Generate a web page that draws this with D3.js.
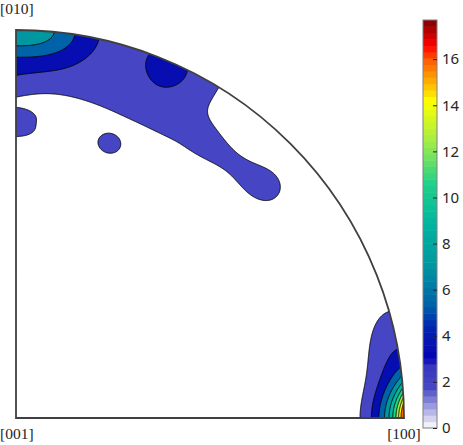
<!DOCTYPE html>
<html><head><meta charset="utf-8">
<script src="https://cdn.jsdelivr.net/npm/d3@7"></script>
<style>body{margin:0;background:#fff}svg{display:block}</style>
</head><body>
<svg id="chart" width="463" height="445"></svg>
<script>
// ---------- data ----------
// texture components of the inverse pole figure, polar position on the
// stereographic quarter disc: angle from [100] (deg) and radius (1 = rim)
const compTheta  = [90,    90,    66.6,  51,    42.8,  90,     71.25, 0,      0,      93,     63];
const compRadius = [1,     1,     0.985, 0.866, 0.881, 0.7603, 0.746, 1,      1,      0.84,   0.84];
const compAmp    = [5.8,   2.6,   1.9,   1.9,   2.4,   3.3,    2.5,   14.4,   4.18,   1.2,    1.4];
const compWidthA = [0.1696,0.6028,0.0693,0.110, 0.062, 0.0652, 0.0482,0.0875, 0.2925, 0.0911, 0.2187];
const compWidthR = [0.0802,0.1683,0.062, 0.040, 0.0565,0.0407, 0.0395,0.0387, 0.0948, 0.0437, 0.0547];
const compPowA   = [2.5,   10,    2,     4,     2,     2,      2,     2,      3,      2,      2];
const compPowR   = [2,     8,     2,     2,     2,     3,      2,     1,      2,      2,      2];

const maxValue = 17.7;
const levels = [1.77, 3.54, 5.31, 7.08, 8.85, 10.62, 12.39, 14.16, 15.93];
const cbTicks = [0, 2, 4, 6, 8, 10, 12, 14, 16];
const cmapValues = [0, 1.77, 2.85, 2.95, 3.54, 4.4, 5.31, 7.08, 8.85, 10.6, 12.4, 14.2, 15.0, 15.93, 16.6, 17.7];
const cmapColors = ["#ffffff", "#4646c4", "#3434be", "#0000b4", "#0810b0", "#0024b0", "#0060aa", "#0098a0",
                    "#00b4a0", "#20d08a", "#a0ec48", "#ffff00", "#ffb000", "#ff6000", "#ff0000", "#800000"];
const poleLabels = ["[001]", "[100]", "[010]"];

// ---------- scales ----------
const svg = d3.select("#chart");
const X = d3.scaleLinear().domain([0, 1]).range([16, 404]);
const Y = d3.scaleLinear().domain([0, 1]).range([418, 30]);
const C = d3.scaleLinear().domain([0, maxValue]).range([428, 20]);
const cmapCont = d3.scaleLinear().domain(cmapValues).range(cmapColors).interpolate(d3.interpolateRgb).clamp(true);
const nColors = 64;
const cmap = v => {
  const idx = Math.max(0, Math.min(nColors - 1, Math.floor(v / maxValue * nColors)));
  return cmapCont((idx + 0.5) / nColors * maxValue);
};

// ---------- density grid ----------
function density(u, v) {
  const r = Math.hypot(u, v);
  const th = Math.atan2(v, u);
  let s = 0;
  for (let k = 0; k < compAmp.length; k++) {
    const a = (th - compTheta[k] * Math.PI / 180) * compRadius[k];
    const b = r - compRadius[k];
    s += compAmp[k] * Math.exp(-Math.pow(Math.abs(a) / compWidthA[k], compPowA[k])
                               - Math.pow(Math.abs(b) / compWidthR[k], compPowR[k]));
  }
  return s;
}
const n = 420, u0 = -0.04, v0 = 1.04, du = 1.08 / (n - 1);
const values = new Float64Array(n * n);
for (let j = 0; j < n; j++) for (let i = 0; i < n; i++)
  values[j * n + i] = density(u0 + i * du, v0 - j * du);

const contours = d3.contours().size([n, n]).thresholds(levels)(values);
const proj = d3.geoTransform({
  point(gx, gy) { this.stream.point(X(u0 + (gx - 0.5) * du), Y(v0 - (gy - 0.5) * du)); }
});
const path = d3.geoPath(proj);

// sector clip
const sector = `M${X(0)},${Y(1)}L${X(0)},${Y(0)}L${X(1)},${Y(0)}A${X(1)-X(0)},${Y(0)-Y(1)} 0 0 0 ${X(0)},${Y(1)}Z`;
svg.append("clipPath").attr("id", "sec").append("path").attr("d", sector);

svg.append("g").attr("clip-path", "url(#sec)")
  .selectAll("path").data(contours).join("path")
  .attr("d", path)
  .attr("fill", d => cmap(d.value))
  .attr("stroke", "#000").attr("stroke-width", 0.9).attr("stroke-linejoin", "round");

svg.append("path").attr("d", sector).attr("fill", "none")
  .attr("stroke", "#404040").attr("stroke-width", 1.8);

// pole labels
const lab = svg.append("g").attr("font-family", "'Liberation Serif', 'DejaVu Serif', serif")
  .attr("font-size", 15.5).attr("fill", "#262626");
lab.append("text").attr("x", 0).attr("y", 439).text(poleLabels[0]);
lab.append("text").attr("x", X(1)).attr("y", 439).attr("text-anchor", "middle").text(poleLabels[1]);
lab.append("text").attr("x", 0).attr("y", 14).text(poleLabels[2]);

// ---------- colorbar ----------
const cb = svg.append("g");
const step = maxValue / nColors;
cb.selectAll("rect.c").data(d3.range(nColors)).join("rect").attr("class", "c")
  .attr("x", 423).attr("width", 14)
  .attr("y", i => C((i + 1) * step)).attr("height", i => C(i * step) - C((i + 1) * step) + 0.5)
  .attr("fill", i => cmapCont((i + 0.5) * step));
cb.append("rect").attr("x", 423).attr("y", C(maxValue)).attr("width", 14)
  .attr("height", C(0) - C(maxValue)).attr("fill", "none").attr("stroke", "#808080").attr("stroke-width", 1);
const axis = d3.axisRight(C).tickValues(cbTicks).tickSizeInner(-4).tickSizeOuter(0).tickPadding(5);
const ax = cb.append("g").attr("transform", "translate(437,0)").call(axis);
ax.select(".domain").remove();
ax.selectAll(".tick line").attr("stroke", "#262626");
ax.selectAll(".tick text").attr("font-family", "'Noto Sans', sans-serif").attr("font-size", 15).attr("fill", "#262626");
</script>
</body></html>
